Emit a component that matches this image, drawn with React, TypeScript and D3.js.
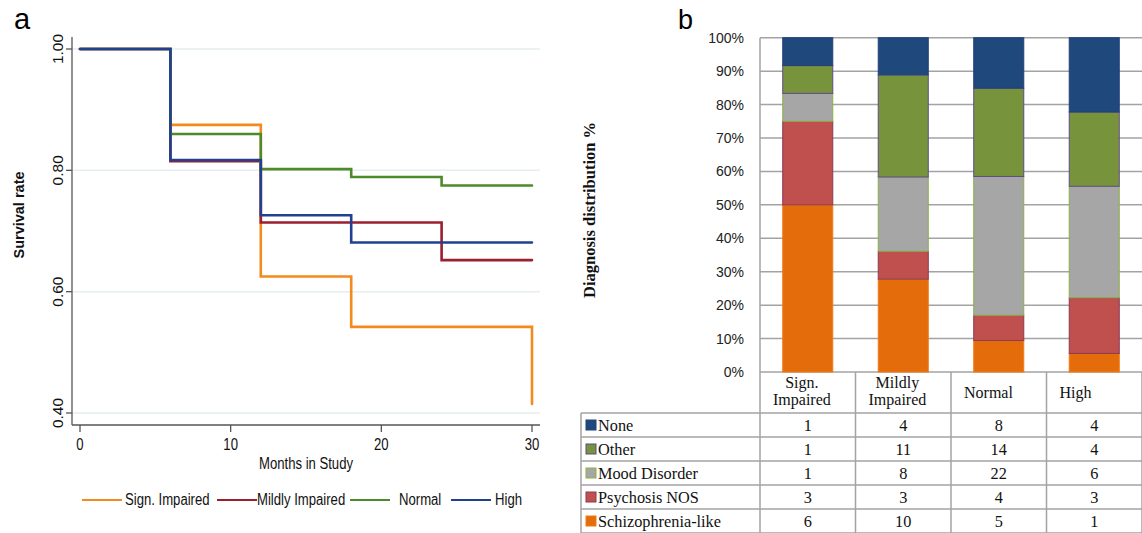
import React from 'react';
import * as d3 from 'd3';

// ---- panel a: Kaplan-Meier style survival curves ----
const groups = ['Sign. Impaired', 'Mildly Impaired', 'Normal', 'High'];
const groupColors = ['#f28a1e', '#9c1f2e', '#4d8a2a', '#21408f'];
// [month, survival] pairs
const signImpaired = [[0, 1], [6, 0.875], [12, 0.625], [18, 0.542], [30, 0.542], [30, 0.415]];
const mildlyImpaired = [[0, 1], [6, 0.815], [12, 0.714], [24, 0.652], [30, 0.652]];
const normal = [[0, 1], [6, 0.86], [12, 0.802], [18, 0.789], [24, 0.775], [30, 0.775]];
const high = [[0, 1], [6, 0.817], [12, 0.726], [18, 0.681], [30, 0.681]];
const survivalSeries = [signImpaired, mildlyImpaired, normal, high];
const survivalTicks = [0.4, 0.6, 0.8, 1.0];
const monthTicks = [0, 10, 20, 30];

// ---- panel b: diagnosis distribution ----
const categories = ['Sign. Impaired', 'Mildly Impaired', 'Normal', 'High'];
const headerLines = [['Sign.', 'Impaired'], ['Mildly', 'Impaired'], ['Normal'], ['High']];
const diagnoses = ['None', 'Other', 'Mood Disorder', 'Psychosis NOS', 'Schizophrenia-like'];
const noneCounts = [1, 4, 8, 4];
const otherCounts = [1, 11, 14, 4];
const moodCounts = [1, 8, 22, 6];
const psychosisCounts = [3, 3, 4, 3];
const schizoCounts = [6, 10, 5, 1];
const diagCounts = [noneCounts, otherCounts, moodCounts, psychosisCounts, schizoCounts];
const diagFill = ['#1f497d', '#77933c', '#a6a6a6', '#c0504d', '#e46c0a'];
const diagStroke = ['#23407a', '#5f4b8b', '#8db045', '#8a3b55', '#f07a1a'];
const pctTicks = [0, 0.1, 0.2, 0.3, 0.4, 0.5, 0.6, 0.7, 0.8, 0.9, 1];

const sans = '"Liberation Sans", Arial, sans-serif';
const serif = '"Liberation Serif", "Times New Roman", serif';

function textWidth(s: string, font: string) {
  const c = document.createElement('canvas').getContext('2d');
  if (!c) return s.length * 8;
  c.font = font;
  return c.measureText(s).width;
}

// Stata's condensed Helvetica look: squeeze Liberation Sans horizontally
function Narrow(props: { x: number; y: number; anchor?: string; children: any }) {
  return (
    <text transform={`translate(${props.x},${props.y}) scale(0.82,1)`} textAnchor={props.anchor || 'start'}
      fontSize={16} fontFamily={sans} fill="#111">{props.children}</text>
  );
}

export default function App() {
  // panel a scales
  const x = d3.scaleLinear().domain([0, 30]).range([80, 532]);
  const y = d3.scaleLinear().domain([0.4, 1]).range([413, 49]);
  const line = d3.line<number[]>()
    .x((d) => x(d[0]))
    .y((d) => y(d[1]))
    .curve(d3.curveStepAfter);

  // panel b scales
  const col = d3.scaleBand<string>().domain(categories).range([760, 1142]);
  const band = d3.scaleBand<string>().domain(categories).range([760, 1142])
    .paddingInner(0.476).paddingOuter(0.238);
  const yp = d3.scaleLinear().domain([0, 1]).range([372, 37.7]);

  const rows = categories.map((c, i) => {
    const r: any = { cat: c };
    diagnoses.forEach((dg, j) => { r[dg] = diagCounts[j][i]; });
    return r;
  });
  const stackKeys = diagnoses.slice().reverse();
  const stacked = d3.stack<any>().keys(stackKeys).offset(d3.stackOffsetExpand)(rows);

  const tableTop = 372;
  const headerBottom = 413;
  const rowH = 24;
  const labelLeft = 581;
  const gridColor = '#a3a3a3';
  const headerFont = `16px ${serif}`;

  const legendLineX = [82, 217, 350, 451];
  const legendTextX = [125, 257, 399, 495];

  return (
    <svg width={1142} height={533} style={{ position: 'absolute', left: 0, top: 0, background: '#fff' }}>
      {/* ===== panel a ===== */}
      <text x={14} y={29} fontSize={29} fontFamily={sans}>a</text>
      {survivalTicks.map((t) => (
        <g key={'gy' + t}>
          <line x1={72} x2={540} y1={y(t)} y2={y(t)} stroke="#e6eef0" strokeWidth={1.5} />
          <line x1={66} x2={72} y1={y(t)} y2={y(t)} stroke="#555" strokeWidth={1.3} />
          <text transform={`translate(57,${y(t)}) rotate(-90)`} textAnchor="middle" dominantBaseline="central"
            fontSize={15.5} fontFamily={sans} fill="#111">{t.toFixed(2)}</text>
        </g>
      ))}
      <line x1={72} x2={72} y1={37} y2={425} stroke="#555" strokeWidth={1.3} />
      <line x1={72} x2={540} y1={425} y2={425} stroke="#555" strokeWidth={1.3} />
      {monthTicks.map((t) => (
        <g key={'gx' + t}>
          <line x1={x(t)} x2={x(t)} y1={425} y2={432} stroke="#555" strokeWidth={1.3} />
          <Narrow x={x(t)} y={450} anchor="middle">{t}</Narrow>
        </g>
      ))}
      <Narrow x={306} y={469} anchor="middle">Months in Study</Narrow>
      <text transform="translate(19,215) rotate(-90)" textAnchor="middle" dominantBaseline="central"
        fontSize={14.5} fontWeight="bold" fontFamily={sans} fill="#111">Survival rate</text>
      {survivalSeries.map((s, i) => (
        <path key={'s' + i} d={line(s) || ''} fill="none" stroke={groupColors[i]} strokeWidth={2.6}
          strokeLinecap="round" strokeLinejoin="miter" />
      ))}
      {groups.map((g, i) => (
        <g key={'lg' + i}>
          <line x1={legendLineX[i]} x2={legendLineX[i] + 40} y1={500} y2={500} stroke={groupColors[i]} strokeWidth={2.2} />
          <Narrow x={legendTextX[i]} y={505}>{g}</Narrow>
        </g>
      ))}

      {/* ===== panel b ===== */}
      <text x={678} y={29} fontSize={27} fontFamily={sans}>b</text>
      <text transform="translate(589,210) rotate(-90)" textAnchor="middle" dominantBaseline="central"
        fontSize={16.5} fontWeight="bold" fontFamily={serif} fill="#111">Diagnosis distribution %</text>
      {pctTicks.map((t) => (
        <g key={'p' + t}>
          <line x1={760} x2={1142} y1={yp(t)} y2={yp(t)} stroke={gridColor} strokeWidth={1.5} />
          <text x={744} y={yp(t)} textAnchor="end" dominantBaseline="central" fontSize={14}
            fontFamily={sans} fill="#222">{Math.round(t * 100) + '%'}</text>
        </g>
      ))}
      <line x1={760} x2={760} y1={37.7} y2={533} stroke={gridColor} strokeWidth={1.5} />
      {stacked.map((layer) => {
        const k = diagnoses.indexOf(layer.key);
        return layer.map((d: any) => (
          <rect key={layer.key + d.data.cat} x={band(d.data.cat)} width={band.bandwidth()}
            y={yp(d[1])} height={yp(d[0]) - yp(d[1])}
            fill={diagFill[k]} stroke={diagStroke[k]} strokeWidth={1} />
        ));
      })}

      {/* table */}
      {categories.map((c, i) => {
        const left = col(c) as number;
        const lines = headerLines[i];
        const w = d3.max(lines, (l) => textWidth(l, headerFont)) || 0;
        const cx = left + 13 + w / 2;
        const base = lines.length === 1 ? [398] : [388, 405];
        return (
          <g key={'h' + c}>
            <line x1={left + col.bandwidth()} x2={left + col.bandwidth()} y1={tableTop} y2={533} stroke={gridColor} strokeWidth={1.5} />
            {lines.map((l, j) => (
              <text key={j} x={cx} y={base[j]} textAnchor="middle" fontSize={16} fontFamily={serif} fill="#111">{l}</text>
            ))}
          </g>
        );
      })}
      <line x1={labelLeft} x2={1142} y1={headerBottom} y2={headerBottom} stroke={gridColor} strokeWidth={1.5} />
      <line x1={labelLeft} x2={labelLeft} y1={headerBottom} y2={533} stroke={gridColor} strokeWidth={1.5} />
      {diagnoses.map((dg, j) => {
        const top = headerBottom + j * rowH;
        const mid = top + rowH / 2;
        return (
          <g key={'r' + dg}>
            <line x1={labelLeft} x2={1142} y1={top + rowH} y2={top + rowH} stroke={gridColor} strokeWidth={1.5} />
            <rect x={586} y={mid - 5} width={10} height={10} fill={diagFill[j]} stroke={diagStroke[j]} strokeWidth={1} />
            <text x={598} y={mid + 5.5} fontSize={16.3} fontFamily={serif} fill="#111">{dg}</text>
            {categories.map((c, i) => (
              <text key={c} x={(col(c) as number) + col.bandwidth() / 2} y={mid + 5.5} textAnchor="middle"
                fontSize={16.3} fontFamily={serif} fill="#111">{diagCounts[j][i]}</text>
            ))}
          </g>
        );
      })}
    </svg>
  );
}
